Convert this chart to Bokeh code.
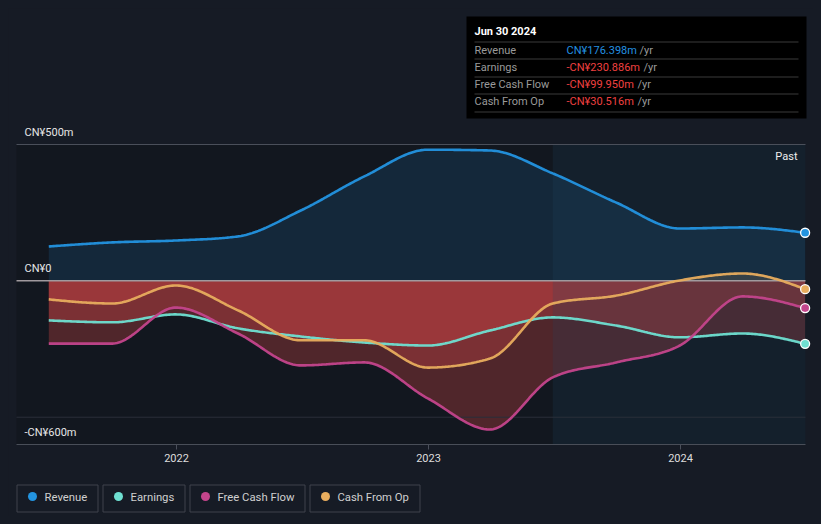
import numpy as np
from datetime import date
from bokeh.plotting import figure
from bokeh.models import Range1d
from bokeh.core.properties import value
from bokeh.embed import file_html
from bokeh.resources import INLINE

# ---------------- data (CN¥ millions, trailing twelve months) ----------------
period_end = ["2021-06-30", "2021-09-30", "2021-12-31", "2022-03-31", "2022-06-30",
              "2022-09-30", "2022-12-31", "2023-03-31", "2023-06-30", "2023-09-30",
              "2023-12-31", "2024-03-31", "2024-06-30"]
revenue = [126, 141, 148, 163, 258, 383, 481, 478, 394, 287, 192, 196, 176.398]
earnings = [-145, -152, -123, -174, -204, -226, -237, -182, -134, -164, -207, -193, -230.886]
free_cash_flow = [-230, -230, -98, -193, -310, -299, -431, -545, -354, -299, -237, -57, -99.950]
cash_from_op = [-68, -83, -17, -108, -218, -218, -318, -285, -83, -54, 1.5, 27, -30.516]
series_names = ["Revenue", "Earnings", "Free Cash Flow", "Cash From Op"]
series_colors = ["#2394e0", "#6fe0d2", "#c4458c", "#e8ad5e"]
year_ticks = [2022, 2023, 2024]
y_tick_values = [500, 0, -600]
y_tick_labels = ["CN¥500m", "CN¥0", "-CN¥600m"]
past_start = "2023-06-30"
tip_title = "Jun 30 2024"
tip_values = ["CN¥176.398m", "-CN¥230.886m", "-CN¥99.950m", "-CN¥30.516m"]

BG = "#161b25"

def dec_year(s):
    d = date.fromisoformat(s)
    n = (date(d.year + 1, 1, 1) - date(d.year, 1, 1)).days
    return d.year + (d - date(d.year, 1, 1)).days / n

xs = [dec_year(s) for s in period_end]

def monotone(x, y, n=40):
    x = np.asarray(x, float); y = np.asarray(y, float)
    h = np.diff(x); s = np.diff(y) / h
    t = np.zeros_like(y)
    for i in range(1, len(x) - 1):
        s0, s1 = s[i - 1], s[i]
        p = (s0 * h[i] + s1 * h[i - 1]) / (h[i - 1] + h[i])
        t[i] = (np.sign(s0) + np.sign(s1)) * min(abs(s0), abs(s1), 0.5 * abs(p))
    t[0] = (3 * s[0] - t[1]) / 2
    t[-1] = (3 * s[-1] - t[-2]) / 2
    X, Y = [], []
    for i in range(len(x) - 1):
        u = np.linspace(0, 1, n, endpoint=(i == len(x) - 2))
        h00 = 2 * u**3 - 3 * u**2 + 1
        h10 = u**3 - 2 * u**2 + u
        h01 = -2 * u**3 + 3 * u**2
        h11 = u**3 - u**2
        X.append(x[i] + u * h[i])
        Y.append(h00 * y[i] + h10 * h[i] * t[i] + h01 * y[i + 1] + h11 * h[i] * t[i + 1])
    return np.concatenate(X), np.concatenate(Y)

# ---------------- pixel helpers (reference-pixel layout) ----------------
def fx(px):
    return 2022 + (px - 176) / 252.0

def fy(py):
    return 500 - (py - 144) / 0.272727

W, H = 805, 508
p = figure(width=W, height=H, output_backend="svg", toolbar_location=None,
           x_range=Range1d(fx(8), fx(8 + W)), y_range=Range1d(fy(8 + H), fy(8)),
           min_border=0, background_fill_color=BG, border_fill_color=BG,
           outline_line_color=None)
p.axis.visible = False
p.grid.visible = False

FONT = value("Roboto")

# chart area
p.quad(left=fx(16), right=fx(805), bottom=-600, top=500, fill_color="#12171f", line_color=None)

# fills
series = [revenue, earnings, free_cash_flow, cash_from_op]
curves = [monotone(xs, s) for s in series]
RX, RY = curves[0]
p.varea(x=RX, y1=np.zeros_like(RY), y2=np.maximum(RY, 0), fill_color="#2196e3", fill_alpha=0.14)
for (cx, cy) in curves[1:]:
    p.varea(x=cx, y1=np.minimum(cy, 0), y2=np.zeros_like(cy), fill_color="#e04848", fill_alpha=0.3)
cx, cy = curves[3]
p.varea(x=cx, y1=np.zeros_like(cy), y2=np.maximum(cy, 0), fill_color="#e8ad5e", fill_alpha=0.18)

# past overlay
p.quad(left=dec_year(past_start), right=fx(805), bottom=-600, top=500,
       fill_color="#1e4664", fill_alpha=0.2, line_color=None)

# grid lines
p.segment(x0=fx(16), x1=fx(805), y0=500, y1=500, line_color="#4a4f5a", line_width=1)
p.segment(x0=fx(16), x1=fx(805), y0=-500, y1=-500, line_color="#2a2f39", line_width=1)
p.segment(x0=fx(16), x1=fx(805), y0=-600, y1=-600, line_color="#4a4f5a", line_width=1)
p.segment(x0=fx(16), x1=fx(805), y0=0, y1=0, line_color="#a09a9e", line_width=1.5)

# year ticks
p.segment(x0=year_ticks, x1=year_ticks, y0=[-600] * 3, y1=[fy(449)] * 3, line_color="#4a4f5a")
p.text(x=year_ticks, y=[fy(457)] * 3, text=[str(y) for y in year_ticks], text_font=FONT,
       text_font_size="11px", text_color="#dddddd", text_align="center", text_baseline="middle")

# y labels
p.text(x=[fx(24)] * 3, y=y_tick_values, text=y_tick_labels, y_offset=-12, text_font=FONT,
       text_font_size="11px", text_color="#e6e6e6", text_align="left", text_baseline="middle")

# lines
for (cx, cy), col in zip(curves, series_colors):
    p.line(cx, cy, line_color=col, line_width=2.6, line_alpha=0.95)
p.scatter(x=[xs[-1]] * 4, y=[s[-1] for s in series], size=9, fill_color=series_colors,
          line_color="white", line_width=1.3)

p.text(x=[fx(797)], y=[fy(156)], text=["Past"], text_font=FONT, text_font_size="11px",
       text_color="#eeeeee", text_align="right", text_baseline="middle")

# tooltip box
p.quad(left=fx(466), right=fx(806), top=fy(16), bottom=fy(118), fill_color="#000000", line_color=None)
p.text(x=[fx(474)], y=[fy(31)], text=[tip_title], text_font=FONT, text_font_size="11px",
       text_font_style="bold", text_color="#ffffff", text_baseline="middle")
sep_y = [41.5, 58.5, 76.5, 93.5, 111.5]
p.segment(x0=[fx(474)] * 5, x1=[fx(798)] * 5, y0=[fy(v) for v in sep_y], y1=[fy(v) for v in sep_y],
          line_color="#3a3a3a", line_width=1)
row_y = [49.5, 66.5, 84, 101]
p.text(x=[fx(474)] * 4, y=[fy(v) for v in row_y], text=series_names, text_font=FONT,
       text_font_size="11px", text_color="#9a9a9a", text_baseline="middle")
val_colors = ["#2390e0", "#f04040", "#f04040", "#f04040"]
p.text(x=[fx(566)] * 4, y=[fy(v) for v in row_y], text=tip_values, text_font=FONT,
       text_font_size="11px", text_color=val_colors, text_baseline="middle")
yr_x = [639, 643, 637, 637]
p.text(x=[fx(v) for v in yr_x], y=[fy(v) for v in row_y], text=["/yr"] * 4, text_font=FONT,
       text_font_size="11px", text_color="#9a9a9a", text_baseline="middle")

# legend
box_l = [16.5, 102.5, 189.5, 309.5]
box_r = [97.5, 184.5, 304.5, 419.5]
p.quad(left=[fx(v) for v in box_l], right=[fx(v) for v in box_r], top=fy(484.5), bottom=fy(511.5),
       fill_color=BG, line_color="#3e434d", line_width=1)
dot_x = [32, 118, 205, 325]
p.scatter(x=[fx(v) for v in dot_x], y=[fy(496)] * 4, size=9, fill_color=series_colors, line_color=None)
txt_x = [44, 130, 217, 337]
p.text(x=[fx(v) for v in txt_x], y=[fy(496.5)] * 4, text=series_names, text_font=FONT,
       text_font_size="11.3px", text_color="#d0d0d0", text_baseline="middle")

template = """
{% block postamble %}
<style>
html { background-color: #161b25; margin: 0; padding: 0; }
body { background-color: #161b25; margin: 8px; padding: 0; overflow: hidden; }
</style>
{% endblock %}
"""
open("out.html", "w").write(file_html(p, INLINE, template=template))
